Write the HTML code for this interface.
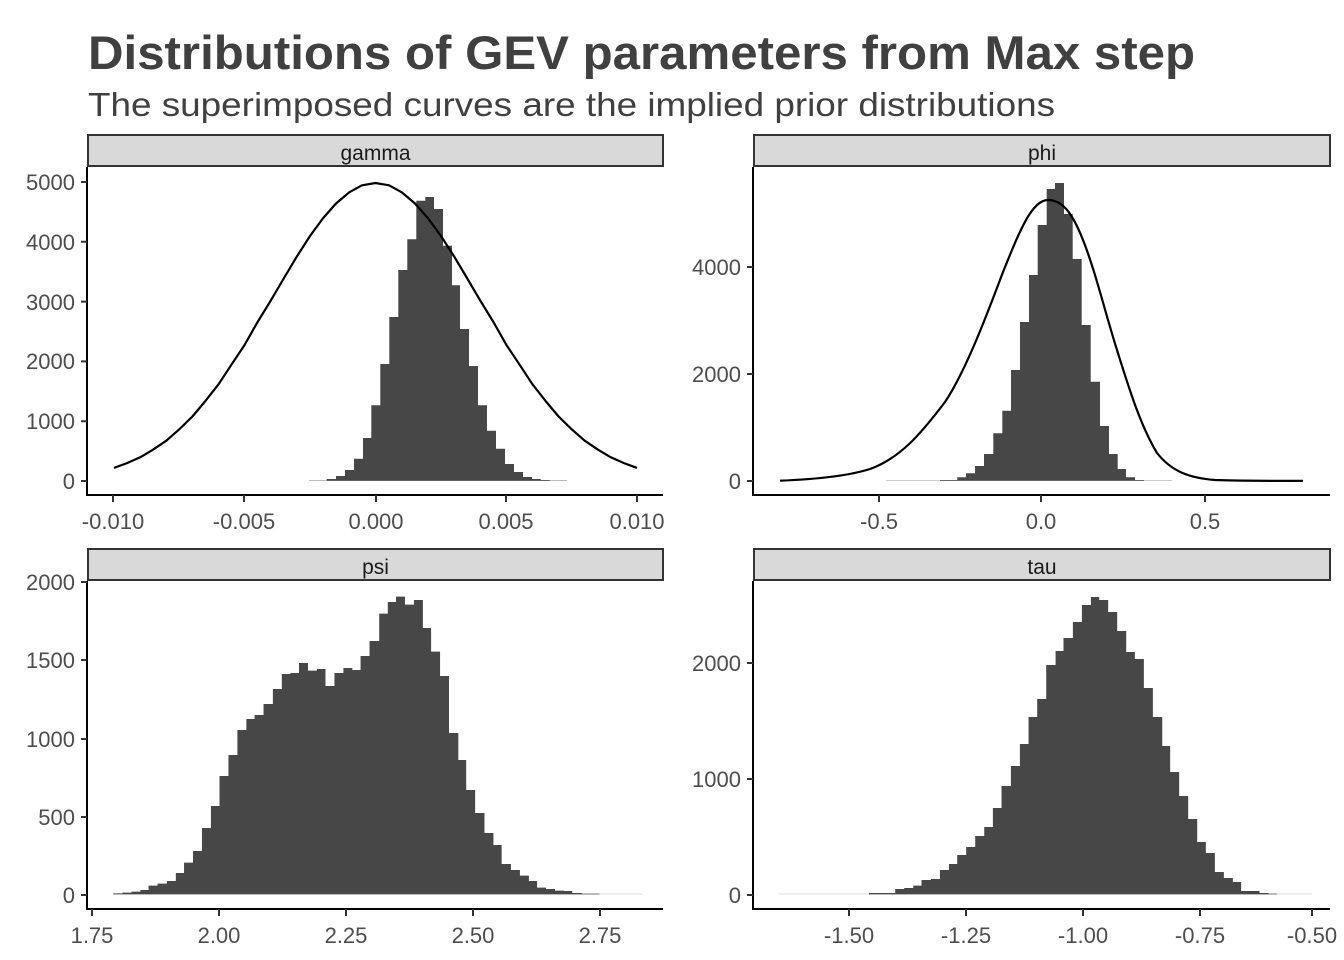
<!DOCTYPE html>
<html><head><meta charset="utf-8"><style>
html,body{margin:0;padding:0;background:#fff;}
svg{display:block;}
text{font-family:"Liberation Sans",sans-serif;}
.t{font-size:22px;fill:#4d4d4d;}
.s{font-size:21px;fill:#1a1a1a;}
</style></head><body>
<svg width="1344" height="960" viewBox="0 0 1344 960" xmlns="http://www.w3.org/2000/svg">
<text x="88" y="69" font-size="47" font-weight="bold" fill="#404040" textLength="1107" lengthAdjust="spacingAndGlyphs">Distributions of GEV parameters from Max step</text>
<text x="88" y="116" font-size="33" fill="#404040" textLength="967" lengthAdjust="spacingAndGlyphs">The superimposed curves are the implied prior distributions</text>

<!-- strips -->
<rect x="88" y="135" width="575" height="31" fill="#d9d9d9" stroke="#333" stroke-width="2"/>
<text x="375.5" y="160" text-anchor="middle" class="s">gamma</text>
<rect x="754" y="135" width="576" height="31" fill="#d9d9d9" stroke="#333" stroke-width="2"/>
<text x="1042" y="160" text-anchor="middle" class="s">phi</text>
<rect x="88" y="549" width="575" height="31" fill="#d9d9d9" stroke="#333" stroke-width="2"/>
<text x="375.5" y="574" text-anchor="middle" class="s">psi</text>
<rect x="754" y="549" width="576" height="31" fill="#d9d9d9" stroke="#333" stroke-width="2"/>
<text x="1042" y="574" text-anchor="middle" class="s">tau</text>

<!-- bars -->
<g fill="#474747">
<line x1="309" y1="480.5" x2="567" y2="480.5" stroke="#bbb" stroke-width="1"/>
<path d="M326.7,480.7 V479 H336 V476 H345 V470 H354 V458.7 H363 V438 H371.3 V405.3 H380.3 V364 H389.3 V317 H398.3 V270 H407.3 V239.3 H416.3 V200.7 H425.3 V197 H434 V209 H443 V245.7 H452 V285.3 H460 V329 H469 V366 H478 V405.3 H487 V430.7 H496 V448.7 H505 V464 H514 V472 H523 V477 H532 V479 H540.7 V480 H549.7 V480.7 Z"/>
<line x1="886" y1="480.5" x2="1172" y2="480.5" stroke="#ccc" stroke-width="1"/>
<path d="M940,480.7 V480 H957.3 V477.3 H966 V473.3 H975 V466 H984 V454 H993.3 V433.3 H1002.3 V410.7 H1011 V370 H1020 V322 H1029 V275 H1037.7 V225 H1046.7 V189 H1055 V183 H1064 V214 H1072.7 V259 H1081.7 V325 H1090.7 V381.7 H1100 V426 H1109 V454 H1117.7 V469 H1126 V477.3 H1135 V480 H1144 V480.7 Z"/>
<g transform="translate(90,580) scale(0.3732,0.33333)">
<line x1="1365" y1="942" x2="1480" y2="942" stroke="#ddd" stroke-width="3"/>
<path d="M62,943 V940 H87 V938 H111 V935 H135 V930 H157 V917 H181 V911 H206 V903 H230 V879 H252 V848 H276 V813 H300 V744 H324 V678 H347 V588 H371 V525 H395 V450 H419 V417 H441 V405 H465 V372 H490 V327 H514 V282 H537 V279 H560 V249 H584 V272 H608 V267 H631 V318 H655 V279 H679 V264 H703 V270 H725 V228 H749 V183 H775 V101 H798 V66 H820 V50 H844 V74 H868 V60 H892 V144 H914 V215 H938 V288 H962 V459 H987 V540 H1008 V630 H1032 V699 H1057 V759 H1081 V795 H1103 V852 H1128 V870 H1152 V887 H1176 V903 H1198 V923 H1222 V927 H1246 V932 H1270 V933 H1292 V939 H1318 V941 H1365 V943 Z"/>
</g>
<g transform="translate(760,580) scale(0.3756,0.33333)">
<line x1="50" y1="942" x2="290" y2="942" stroke="#ddd" stroke-width="3"/>
<line x1="1376" y1="942" x2="1470" y2="942" stroke="#ddd" stroke-width="3"/>
<path d="M290,943 V939 H360 V927 H384 V924 H408 V917 H430 V900 H455 V897 H479 V870 H503 V852 H525 V825 H549 V801 H573 V768 H597 V741 H620 V684 H643 V618 H668 V558 H692 V492 H715 V411 H738 V357 H762 V255 H787 V213 H808 V174 H833 V126 H857 V75 H881 V51 H903 V60 H927 V96 H951 V153 H975 V216 H998 V237 H1022 V324 H1046 V411 H1071 V498 H1092 V576 H1116 V648 H1140 V717 H1164 V786 H1187 V819 H1211 V876 H1235 V894 H1259 V906 H1281 V933 H1330 V939 H1354 V941 H1376 V943 Z"/>
</g>
</g>

<!-- curves -->
<polyline fill="none" stroke="#000" stroke-width="2.2" stroke-linejoin="round" points="114,467.9 127,463.1 140.2,457.3 153,449.7 166.3,440.7 179,429.6 192.4,416.5 205,401.5 218.6,384.2 231,365.3 244.8,344.6 257,323 270.9,300.3 284,278 297.1,256.1 310,236 323.2,218 336,203.5 349.4,192.2 362,185.3 375.5,183 389,185.3 401.6,192.2 415,203.5 427.8,218 441,236 453.9,256.1 467,278 480.1,300.3 494,323 506.2,344.6 520,365.3 532.4,384.2 546,401.5 558.6,416.5 572,429.6 584.7,440.7 598,449.7 610.8,457.3 624,463.1 637,467.9"/>
<path fill="none" stroke="#000" stroke-width="2.2" stroke-linejoin="round" d="M780,480.7 C810,479.5 845,477 870,469 C900,458 920,435 945,402 C965,372 985,320 1003,272 C1020,230 1032,200 1048,200 C1062,200 1072,212 1083,240 C1095,270 1105,312 1117,350 C1128,385 1140,425 1157,453 C1172,472 1190,478 1215,480 C1250,481 1280,481 1303,480.8"/>

<!-- axes -->
<g stroke="#000" stroke-width="2" fill="none">
<path d="M87,167 V495 H663"/>
<path d="M753,167 V495 H1330"/>
<path d="M87,581 V909 H663"/>
<path d="M753,581 V909 H1330"/>
</g>
<g stroke="#333" stroke-width="2">
<path d="M81,481H87 M81,421.2H87 M81,361.4H87 M81,301.6H87 M81,241.8H87 M81,182H87"/>
<path d="M113,495V502 M244,495V502 M376,495V502 M506,495V502 M637,495V502"/>
<path d="M747,481H753 M747,374H753 M747,267H753"/>
<path d="M879,495V502 M1041,495V502 M1205,495V502"/>
<path d="M81,895H87 M81,817H87 M81,739H87 M81,660H87 M81,582H87"/>
<path d="M92,909V916 M219,909V916 M346,909V916 M473,909V916 M600,909V916"/>
<path d="M747,895H753 M747,779H753 M747,663H753"/>
<path d="M849,909V916 M966,909V916 M1083,909V916 M1200,909V916 M1312,909V916"/>
</g>

<g text-anchor="end">
<text x="75" y="489" class="t">0</text>
<text x="75" y="429" class="t">1000</text>
<text x="75" y="369" class="t">2000</text>
<text x="75" y="310" class="t">3000</text>
<text x="75" y="250" class="t">4000</text>
<text x="75" y="190" class="t">5000</text>
<text x="741" y="489" class="t">0</text>
<text x="741" y="382" class="t">2000</text>
<text x="741" y="275" class="t">4000</text>
<text x="75" y="903" class="t">0</text>
<text x="75" y="825" class="t">500</text>
<text x="75" y="747" class="t">1000</text>
<text x="75" y="668" class="t">1500</text>
<text x="75" y="590" class="t">2000</text>
<text x="741" y="903" class="t">0</text>
<text x="741" y="787" class="t">1000</text>
<text x="741" y="671" class="t">2000</text>
</g>
<g text-anchor="middle">
<text x="113" y="529" class="t">-0.010</text>
<text x="244" y="529" class="t">-0.005</text>
<text x="376" y="529" class="t">0.000</text>
<text x="506" y="529" class="t">0.005</text>
<text x="637" y="529" class="t">0.010</text>
<text x="879" y="529" class="t">-0.5</text>
<text x="1041" y="529" class="t">0.0</text>
<text x="1205" y="529" class="t">0.5</text>
<text x="92" y="943" class="t">1.75</text>
<text x="219" y="943" class="t">2.00</text>
<text x="346" y="943" class="t">2.25</text>
<text x="473" y="943" class="t">2.50</text>
<text x="600" y="943" class="t">2.75</text>
<text x="849" y="943" class="t">-1.50</text>
<text x="966" y="943" class="t">-1.25</text>
<text x="1083" y="943" class="t">-1.00</text>
<text x="1200" y="943" class="t">-0.75</text>
<text x="1312" y="943" class="t">-0.50</text>
</g>
</svg>
</body></html>
